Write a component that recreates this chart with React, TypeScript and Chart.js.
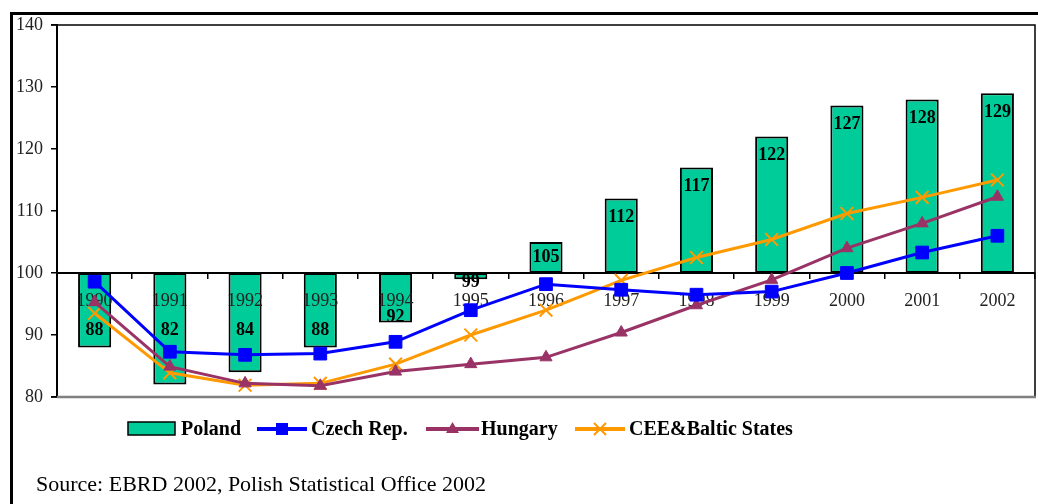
import React, { useEffect, useRef } from 'react';
import { Chart, registerables } from 'chart.js';

Chart.register(...registerables);

const years = ['1990', '1991', '1992', '1993', '1994', '1995', '1996', '1997', '1998', '1999', '2000', '2001', '2002'];
const poland = [88, 82, 84, 88, 92, 99, 105, 112, 117, 122, 127, 128, 129];
const czech = [98.6, 87.3, 86.8, 87.0, 88.9, 94.0, 98.2, 97.3, 96.5, 97.0, 100.0, 103.3, 106.0];
const hungary = [95.3, 84.9, 82.2, 81.8, 84.1, 85.3, 86.4, 90.4, 94.8, 98.9, 104.0, 108.0, 112.3];
const cee = [93.5, 83.9, 81.9, 82.2, 85.3, 90.0, 94.0, 98.8, 102.5, 105.4, 109.6, 112.2, 115.0];
const seriesNames = ['Poland', 'Czech Rep.', 'Hungary', 'CEE&Baltic States'];
const baseValue = 100;
const yMin = 80;
const yMax = 140;
const yStep = 10;
const sourceText = 'Source: EBRD 2002, Polish Statistical Office 2002';

const GREEN = '#00CC99';
const BLUE = '#0000FF';
const PLUM = '#993366';
const ORANGE = '#FF9900';
const SERIF = '"Liberation Serif", "Times New Roman", serif';

function drawMarker(ctx: CanvasRenderingContext2D, kind: string, x: number, y: number, color: string) {
  ctx.save();
  ctx.fillStyle = color;
  ctx.strokeStyle = color;
  if (kind === 'rect') {
    ctx.fillRect(x - 6, y - 6, 12, 12);
  } else if (kind === 'triangle') {
    ctx.beginPath();
    ctx.moveTo(x, y - 7);
    ctx.lineTo(x + 6.5, y + 4);
    ctx.lineTo(x - 6.5, y + 4);
    ctx.closePath();
    ctx.fill();
  } else if (kind === 'cross') {
    ctx.lineWidth = 2;
    ctx.beginPath();
    ctx.moveTo(x - 6, y - 6);
    ctx.lineTo(x + 6, y + 6);
    ctx.moveTo(x + 6, y - 6);
    ctx.lineTo(x - 6, y + 6);
    ctx.stroke();
  }
  ctx.restore();
}

export default function App() {
  const ref = useRef<HTMLCanvasElement>(null);

  useEffect(() => {
    document.body.style.margin = '0';
    const canvas = ref.current;
    if (!canvas) return;

    const decor = {
      id: 'decor',
      afterDatasetDraw(chart: any, args: any) {
        if (args.index !== 0) return;
        const ctx: CanvasRenderingContext2D = chart.ctx;
        const xs = chart.scales.x;
        const ys = chart.scales.y;
        const base = ys.getPixelForValue(baseValue);
        ctx.save();
        ctx.textAlign = 'center';
        ctx.textBaseline = 'middle';
        ctx.fillStyle = '#222';
        ctx.font = `18px ${SERIF}`;
        years.forEach((yr, i) => {
          ctx.fillText(yr, xs.getPixelForValue(i), base + 28);
        });
        ctx.fillStyle = '#000';
        ctx.font = `bold 18px ${SERIF}`;
        poland.forEach((v, i) => {
          const p = ys.getPixelForValue(v);
          let ly: number;
          if (v >= baseValue) {
            ly = p + Math.min(19, Math.abs(p - base) / 2);
          } else {
            ly = Math.max(base + 9, Math.min(base + 57, p - 5));
          }
          ctx.fillText(String(v), xs.getPixelForValue(i), ly);
        });
        ctx.restore();
      },
      afterDraw(chart: any) {
        const ctx: CanvasRenderingContext2D = chart.ctx;
        const a = chart.chartArea;
        ctx.save();
        // outer frame
        ctx.strokeStyle = '#000';
        ctx.lineWidth = 3;
        ctx.beginPath();
        ctx.moveTo(11.5, 504);
        ctx.lineTo(11.5, 13.5);
        ctx.lineTo(1038, 13.5);
        ctx.stroke();
        // plot frame
        ctx.lineWidth = 1.5;
        ctx.beginPath();
        ctx.moveTo(a.left - 6, a.top);
        ctx.lineTo(a.right, a.top);
        ctx.lineTo(a.right, a.bottom);
        ctx.stroke();
        ctx.strokeStyle = '#808080';
        ctx.lineWidth = 2.5;
        ctx.beginPath();
        ctx.moveTo(a.left, a.bottom);
        ctx.lineTo(a.right + 1, a.bottom);
        ctx.stroke();
        ctx.strokeStyle = '#000';
        ctx.lineWidth = 1.5;
        ctx.beginPath();
        ctx.moveTo(a.left - 6, a.bottom);
        ctx.lineTo(a.left, a.bottom);
        ctx.stroke();

        // legend
        const ly = 429;
        ctx.font = `bold 20px ${SERIF}`;
        ctx.textAlign = 'left';
        ctx.textBaseline = 'alphabetic';
        ctx.fillStyle = GREEN;
        ctx.fillRect(128, 422, 47, 13);
        ctx.strokeStyle = '#000';
        ctx.lineWidth = 1.5;
        ctx.strokeRect(128, 422, 47, 13);
        ctx.fillStyle = '#000';
        ctx.fillText(seriesNames[0], 181, 435);

        const items = [
          { x0: 257, x1: 307, color: BLUE, kind: 'rect', tx: 311, name: seriesNames[1] },
          { x0: 426, x1: 479, color: PLUM, kind: 'triangle', tx: 481, name: seriesNames[2] },
          { x0: 575, x1: 625, color: ORANGE, kind: 'cross', tx: 629, name: seriesNames[3] },
        ];
        items.forEach((it) => {
          ctx.strokeStyle = it.color;
          ctx.lineWidth = 4;
          ctx.beginPath();
          ctx.moveTo(it.x0, ly);
          ctx.lineTo(it.x1, ly);
          ctx.stroke();
          drawMarker(ctx, it.kind, (it.x0 + it.x1) / 2, ly, it.color);
          ctx.fillStyle = '#000';
          ctx.fillText(it.name, it.tx, 435);
        });

        // source
        ctx.font = `22px ${SERIF}`;
        ctx.fillStyle = '#000';
        ctx.fillText(sourceText, 36, 491);
        ctx.restore();
      },
    };

    const chart = new Chart(canvas, {
      type: 'bar',
      data: {
        labels: years,
        datasets: [
          {
            type: 'bar',
            label: seriesNames[0],
            data: poland.map((v) => [baseValue, v]) as any,
            backgroundColor: GREEN,
            borderColor: '#000',
            borderWidth: 2,
            borderSkipped: false,
            barPercentage: 0.44,
            categoryPercentage: 1,
            order: 1,
          },
          {
            type: 'line',
            label: seriesNames[1],
            data: czech,
            borderColor: BLUE,
            backgroundColor: BLUE,
            borderWidth: 3,
            pointStyle: 'rect',
            pointRadius: 9,
            pointBorderWidth: 1,
            order: 0,
          },
          {
            type: 'line',
            label: seriesNames[2],
            data: hungary,
            borderColor: PLUM,
            backgroundColor: PLUM,
            borderWidth: 3,
            pointStyle: 'triangle',
            pointRadius: 7,
            pointBorderWidth: 1,
            order: 0,
          },
          {
            type: 'line',
            label: seriesNames[3],
            data: cee,
            borderColor: ORANGE,
            backgroundColor: ORANGE,
            borderWidth: 3,
            pointStyle: 'crossRot',
            pointRadius: 9,
            pointBorderWidth: 2,
            order: 0,
          },
        ] as any,
      },
      options: {
        responsive: false,
        animation: false,
        layout: { autoPadding: false, padding: { left: 0, top: 25, right: 3, bottom: 107 } },
        plugins: { legend: { display: false }, tooltip: { enabled: false } },
        scales: {
          x: {
            type: 'category',
            position: { y: baseValue } as any,
            offset: true,
            grid: {
              display: true,
              drawOnChartArea: false,
              drawTicks: true,
              tickLength: 5,
              offset: true,
              color: '#000',
              lineWidth: 1.5,
            },
            border: { display: true, color: '#000', width: 2 },
            ticks: { display: false },
            afterFit(s: any) {
              s.paddingLeft = 0;
              s.paddingRight = 0;
              s.paddingTop = 0;
              s.paddingBottom = 0;
            },
          },
          y: {
            min: yMin,
            max: yMax,
            ticks: {
              stepSize: yStep,
              color: '#222',
              padding: 8,
              font: { family: SERIF, size: 18 },
            },
            grid: {
              drawOnChartArea: false,
              drawTicks: true,
              tickLength: 6,
              color: '#000',
              lineWidth: 1.5,
            },
            border: { display: true, color: '#000', width: 2 },
            afterFit(s: any) {
              s.width = 57;
              s.paddingRight = 0;
            },
          },
        } as any,
      },
      plugins: [decor],
    });

    return () => chart.destroy();
  }, []);

  return (
    <div style={{ position: 'fixed', left: 0, top: 0, width: 1038, height: 504, background: '#fff' }}>
      <canvas ref={ref} width={1038} height={504} style={{ width: 1038, height: 504, display: 'block' }} />
    </div>
  );
}
